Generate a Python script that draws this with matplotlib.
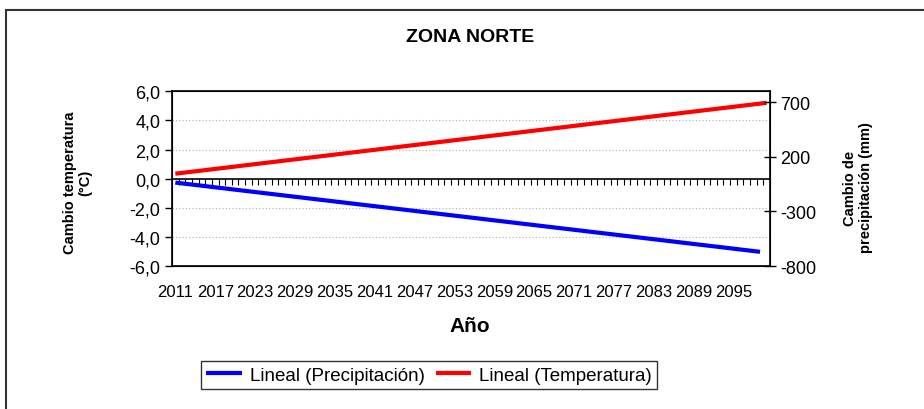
import numpy as np
import matplotlib
matplotlib.use('Agg')
import matplotlib.pyplot as plt
from matplotlib.patches import Rectangle
from matplotlib.ticker import FuncFormatter

plt.rcParams['font.family'] = ['Liberation Sans', 'DejaVu Sans']
plt.rcParams['axes.unicode_minus'] = False

# ---------- DATA ----------
# linear trend lines (start / end of each fit)
temp_years = [2011, 2100]
temp_vals = [0.34, 5.21]          # Cambio temperatura (°C)
prec_years = [2011, 2099]
prec_vals = [-36, -670]           # Cambio de precipitación (mm)

first_year, last_year = 2011, 2100
label_years = list(range(2011, 2096, 6))
left_ticks = [-6, -4, -2, 0, 2, 4, 6]
right_ticks = [-800, -300, 200, 700]

# ---------- FIGURE ----------
fig = plt.figure(figsize=(9.24, 4.10), dpi=100)
ax = fig.add_axes([172/924, 1-267/410, (770-172)/924, (267-92.3)/410])

ax.plot(temp_years, temp_vals, color='#FF0000', lw=3, solid_capstyle='butt',
        label='Lineal (Temperatura)')
ax.set_xlim(first_year - 0.5, last_year + 0.5)
ax.set_ylim(-6, 6)
ax.set_yticks(left_ticks)
ax.yaxis.set_major_formatter(FuncFormatter(lambda v, p: f"{v:.1f}".replace('.', ',')))
ax.tick_params(axis='y', direction='out', length=5, labelsize=13, width=1)
for v in left_ticks[1:-1]:
    if v != 0:
        ax.axhline(v, color='#b0b0b0', lw=0.8, ls=(0, (1, 2)), zorder=0)

ax.set_xticks(label_years)
ax.tick_params(axis='x', length=0, labelsize=12, pad=13)
for s in ax.spines.values():
    s.set_linewidth(1.2)

# zero line with one tick per year
zero = ax.secondary_xaxis(0.5)
zero.set_xticks(np.arange(first_year - 0.5, last_year + 1, 1))
zero.set_xticklabels([])
zero.tick_params(direction='in', length=4, width=0.8)
for s in zero.spines.values():
    s.set_linewidth(1.2)

ax2 = ax.twinx()
ax2.plot(prec_years, prec_vals, color='#0000FF', lw=3, solid_capstyle='butt',
         label='Lineal (Precipitación)')
ax2.set_ylim(-800, 800)
ax2.set_yticks(right_ticks)
ax2.tick_params(axis='y', direction='inout', length=8, labelsize=13, width=1)

fig.text(78/924, 1-183/410, 'Cambio temperatura\n(°C)', rotation=90, ha='center', va='center',
         fontsize=10.5, fontweight='bold', linespacing=1.1)
fig.text(858/924, 1-188/410, 'Cambio de\nprecipitación (mm)', rotation=90, ha='center', va='center',
         fontsize=10.5, fontweight='bold', linespacing=1.1)

fig.text(470/924, 1-37/410, 'ZONA NORTE', ha='center', va='center',
         fontsize=14, fontweight='bold')
fig.text(470/924, 1-327/410, 'Año', ha='center', va='center',
         fontsize=15, fontweight='bold')

h1, l1 = ax.get_legend_handles_labels()
h2, l2 = ax2.get_legend_handles_labels()
leg = fig.legend(h2 + h1, l2 + l1, loc='center', bbox_to_anchor=(429/924, 1-376/410),
                 ncol=2, fontsize=13.5, frameon=True, fancybox=False, handlelength=1.9,
                 columnspacing=0.6, handletextpad=0.4, borderpad=0.3, borderaxespad=0)
leg.get_frame().set_edgecolor('black')
leg.get_frame().set_linewidth(1)

fig.patches.append(Rectangle((6/924, -0.2), 2, 1.2 - 11/410, transform=fig.transFigure,
                             fill=False, edgecolor='#333333', lw=1.5, clip_on=False))

fig.savefig('out.png', dpi=100)
